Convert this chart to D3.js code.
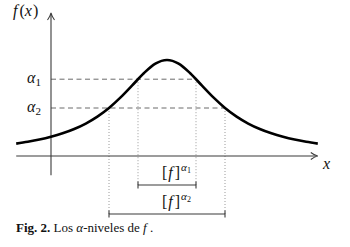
<!DOCTYPE html>
<html>
<head>
<meta charset="utf-8">
<script src="https://cdn.jsdelivr.net/npm/d3@7"></script>
<style>
  body { margin: 0; background: #fff; }
  svg { display: block; }
  text { fill: #111; }
  .math { font-style: italic; }
</style>
</head>
<body>
<svg id="chart" width="350" height="247"></svg>
<script>
// curve samples (x in axis units, y = f(x))
const curveX = [-1.2, -0.8, -0.4, 0, 0.4, 0.8, 1.2, 1.6, 2.0, 2.4, 2.8, 3.2, 3.6, 4.0,
                4.4, 4.8, 5.2, 5.6, 6.0, 6.4, 6.8, 7.2, 7.6, 8.0, 8.4, 8.8, 9.2];
const curveY = [0.129, 0.148, 0.171, 0.200, 0.236, 0.281, 0.338, 0.410, 0.500, 0.610, 0.735, 0.862, 0.962, 1.0,
                0.962, 0.862, 0.735, 0.610, 0.500, 0.410, 0.338, 0.281, 0.236, 0.200, 0.171, 0.148, 0.129];

// alpha levels and the cut interval at each level
const levelNames = ["1", "2"];
const levelValues = [0.8, 0.5];
const levelLo = [3.0, 2.0];
const levelHi = [5.0, 6.0];

const xExtent = [-1.2, 9.2];
const yExtent = [-0.2, 1.49];

const svg = d3.select("#chart");
svg.style("font-family", "'Liberation Serif', serif");

const x = d3.scaleLinear().domain([0, 4]).range([51, 167]);
const y = d3.scaleLinear().domain([0, 1]).range([156, 60]);

const axisColor = "#3a3a3a";
const barRows = [185, 214];   // pixel rows of the interval bars

// dashed alpha lines
svg.selectAll("line.alpha")
  .data(levelValues)
  .join("line")
    .attr("class", "alpha")
    .attr("x1", x(0))
    .attr("x2", (d, i) => x(levelHi[i]))
    .attr("y1", d => y(d))
    .attr("y2", d => y(d))
    .attr("stroke", "#6a6a6a")
    .attr("stroke-width", 1)
    .attr("stroke-dasharray", "5,3.5");

// dotted drops from the curve to the bars
levelValues.forEach((v, i) => {
  [levelLo[i], levelHi[i]].forEach(xv => {
    svg.append("line")
      .attr("x1", x(xv)).attr("x2", x(xv))
      .attr("y1", y(v)).attr("y2", barRows[i])
      .attr("stroke", "#9a9a9a")
      .attr("stroke-width", 1)
      .attr("stroke-dasharray", "1,2");
  });
});

// axes with arrow heads
svg.append("line")
  .attr("x1", x(xExtent[0])).attr("x2", x(xExtent[1]) - 2)
  .attr("y1", y(0)).attr("y2", y(0))
  .attr("stroke", axisColor).attr("stroke-width", 1.1);
svg.append("line")
  .attr("x1", x(0)).attr("x2", x(0))
  .attr("y1", y(yExtent[0])).attr("y2", y(yExtent[1]) + 2)
  .attr("stroke", axisColor).attr("stroke-width", 1.1);

const xt = x(xExtent[1]), yt = y(0);
svg.append("path")
  .attr("d", `M${xt - 7},${yt - 3.5} Q${xt - 3},${yt - 0.5} ${xt},${yt} Q${xt - 3},${yt + 0.5} ${xt - 7},${yt + 3.5}`)
  .attr("fill", "none").attr("stroke", axisColor).attr("stroke-width", 1.1);
const ax = x(0), ay = y(yExtent[1]);
svg.append("path")
  .attr("d", `M${ax - 3.5},${ay + 7} Q${ax - 0.5},${ay + 3} ${ax},${ay} Q${ax + 0.5},${ay + 3} ${ax + 3.5},${ay + 7}`)
  .attr("fill", "none").attr("stroke", axisColor).attr("stroke-width", 1.1);

// the curve
const line = d3.line()
  .x(d => x(d[0]))
  .y(d => y(d[1]))
  .curve(d3.curveMonotoneX);
svg.append("path")
  .datum(d3.zip(curveX, curveY))
  .attr("d", line)
  .attr("fill", "none")
  .attr("stroke", "#000")
  .attr("stroke-width", 2.6);

// interval bars
levelValues.forEach((v, i) => {
  const g = svg.append("g").attr("stroke", axisColor).attr("stroke-width", 1.1);
  const r = barRows[i];
  g.append("line").attr("x1", x(levelLo[i])).attr("x2", x(levelHi[i])).attr("y1", r).attr("y2", r);
  g.append("line").attr("x1", x(levelLo[i])).attr("x2", x(levelLo[i])).attr("y1", r - 3.5).attr("y2", r + 3.5);
  g.append("line").attr("x1", x(levelHi[i])).attr("x2", x(levelHi[i])).attr("y1", r - 3.5).attr("y2", r + 3.5);

  const t = svg.append("text")
    .attr("x", 162)
    .attr("y", r - 7)
    .attr("font-size", 16);
  t.append("tspan").text("[");
  t.append("tspan").attr("class", "math").attr("dx", 1).text("f");
  t.append("tspan").attr("dx", 2).text("]");
  t.append("tspan").attr("class", "math").attr("font-size", 11).attr("dy", -7).attr("dx", 1).text("α");
  t.append("tspan").attr("font-size", 8).attr("dy", 2).text(levelNames[i]);
});

// alpha labels on the y axis
levelValues.forEach((v, i) => {
  const t = svg.append("text")
    .attr("x", 27).attr("y", y(v) + 4)
    .attr("font-size", 16);
  t.append("tspan").attr("class", "math").text("α");
  t.append("tspan").attr("font-size", 11).attr("dy", 3).text(levelNames[i]);
});

// axis labels
const fx = svg.append("text").attr("x", 13).attr("y", 16).attr("font-size", 16);
fx.append("tspan").attr("class", "math").text("f");
fx.append("tspan").attr("dx", 2).text("(");
fx.append("tspan").attr("class", "math").text("x");
fx.append("tspan").attr("dx", 1).text(")");

svg.append("text")
  .attr("class", "math")
  .attr("x", 323).attr("y", 169)
  .attr("font-size", 16)
  .text("x");

// caption
const cap = svg.append("text").attr("x", 16).attr("y", 232).attr("font-size", 13);
cap.append("tspan").attr("font-weight", "bold").text("Fig. 2.");
cap.append("tspan").text(" Los ");
cap.append("tspan").attr("class", "math").text("α");
cap.append("tspan").text("-niveles de ");
cap.append("tspan").attr("class", "math").text("f");
cap.append("tspan").text(" .");
</script>
</body>
</html>
